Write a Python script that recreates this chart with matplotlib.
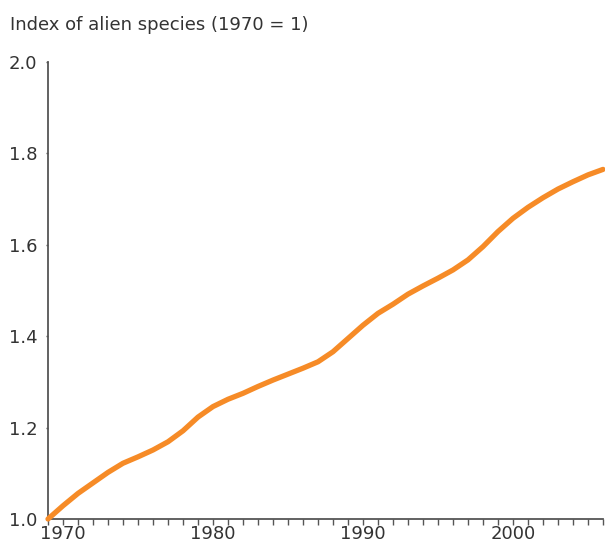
import matplotlib
matplotlib.use("Agg")
import matplotlib.pyplot as plt
from matplotlib.ticker import MultipleLocator, FixedLocator

plt.rcParams['font.family'] = ['DejaVu Sans']

years = list(range(1969, 2007))
index_values = [1.000, 1.029, 1.056, 1.079, 1.102, 1.122, 1.136, 1.151, 1.169, 1.193,
                1.223, 1.246, 1.262, 1.275, 1.290, 1.304, 1.317, 1.330, 1.344, 1.366,
                1.395, 1.424, 1.450, 1.470, 1.492, 1.510, 1.527, 1.545, 1.567, 1.596,
                1.629, 1.658, 1.682, 1.703, 1.722, 1.738, 1.753, 1.765]
x_ticks = [1970, 1980, 1990, 2000]
y_ticks = [1.0, 1.2, 1.4, 1.6, 1.8, 2.0]
title = "Index of alien species (1970 = 1)"

W, H = 605, 543
fig = plt.figure(figsize=(W / 100, H / 100), dpi=100)
ax = fig.add_axes([48 / W, (H - 519) / H, (603 - 48) / W, (519 - 62) / H])

text_color = "#333333"
spine_color = "#555555"

ax.plot(years, index_values, color="#f68b27", lw=3.8, solid_joinstyle="round",
        solid_capstyle="round", clip_on=False, zorder=5)

ax.set_xlim(1969, 2006.0)
ax.set_ylim(1.0, 2.0)

for s in ["top", "right"]:
    ax.spines[s].set_visible(False)
for s in ["left", "bottom"]:
    ax.spines[s].set_color(spine_color)
    ax.spines[s].set_linewidth(1.3)

ax.xaxis.set_major_locator(FixedLocator(x_ticks))
ax.xaxis.set_minor_locator(MultipleLocator(1))
ax.set_xticklabels([str(v) for v in x_ticks])
ax.yaxis.set_major_locator(FixedLocator(y_ticks))
ax.set_yticklabels([f"{v:.1f}" for v in y_ticks])

fs = 13
ax.tick_params(axis="x", which="both", direction="out", length=4, width=1,
               color=spine_color, labelsize=fs, labelcolor=text_color, pad=0.5)
ax.tick_params(axis="y", which="major", direction="out", length=1.5, width=1,
               color=spine_color, labelsize=fs, labelcolor=text_color, pad=6)

fig.text(10 / W, 1 - 30 / H, title, fontsize=fs, color=text_color, ha="left", va="baseline")

fig.savefig("out.png", dpi=100)
